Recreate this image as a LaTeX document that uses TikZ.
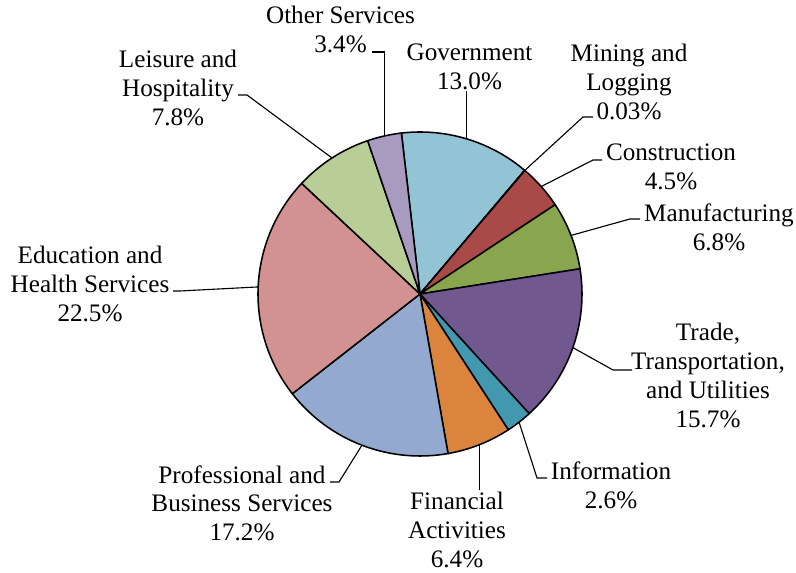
\documentclass[tikz,border=0pt]{standalone}
\usepackage{fontspec}
\setmainfont{Liberation Serif}
\usetikzlibrary{calc}

\definecolor{govblue}{RGB}{147,196,213}
\definecolor{minblue}{RGB}{79,129,189}
\definecolor{conred}{RGB}{170,74,72}
\definecolor{mangreen}{RGB}{137,166,78}
\definecolor{trapurple}{RGB}{113,88,143}
\definecolor{infteal}{RGB}{65,152,175}
\definecolor{finorange}{RGB}{219,132,61}
\definecolor{problue}{RGB}{147,169,207}
\definecolor{edupink}{RGB}{209,146,145}
\definecolor{leigreen}{RGB}{185,205,150}
\definecolor{othlilac}{RGB}{169,155,192}

\def\pieR{40.5mm}

\tikzset{
	slice/.style={draw=black, line width=1.1pt, line join=round},
	leader/.style={draw=black, line width=0.8pt},
	lbl/.style={align=center, inner sep=1pt, font=\fontsize{17.9}{20.6}\selectfont}
}

\begin{document}
\begin{tikzpicture}[x=0.25mm, y=0.25mm]
	%%%%% START %%%%%
	\useasboundingbox (0, 0) rectangle (796, 573);
	
	\coordinate (c) at (420, 279);
	
	% slices, clockwise from the top
	\filldraw[slice, fill=govblue] (c) -- ($(c)+(96.59:\pieR)$) arc (96.59:49.77:\pieR) -- cycle;
	\filldraw[slice, fill=minblue] (c) -- ($(c)+(49.77:\pieR)$) arc (49.77:49.66:\pieR) -- cycle;
	\filldraw[slice, fill=conred] (c) -- ($(c)+(49.66:\pieR)$) arc (49.66:33.45:\pieR) -- cycle;
	\filldraw[slice, fill=mangreen] (c) -- ($(c)+(33.45:\pieR)$) arc (33.45:8.95:\pieR) -- cycle;
	\filldraw[slice, fill=trapurple] (c) -- ($(c)+(8.95:\pieR)$) arc (8.95:-47.61:\pieR) -- cycle;
	\filldraw[slice, fill=infteal] (c) -- ($(c)+(-47.61:\pieR)$) arc (-47.61:-56.98:\pieR) -- cycle;
	\filldraw[slice, fill=finorange] (c) -- ($(c)+(-56.98:\pieR)$) arc (-56.98:-80.04:\pieR) -- cycle;
	\filldraw[slice, fill=problue] (c) -- ($(c)+(-80.04:\pieR)$) arc (-80.04:-142.00:\pieR) -- cycle;
	\filldraw[slice, fill=edupink] (c) -- ($(c)+(-142.00:\pieR)$) arc (-142.00:-223.06:\pieR) -- cycle;
	\filldraw[slice, fill=leigreen] (c) -- ($(c)+(-223.06:\pieR)$) arc (-223.06:-251.16:\pieR) -- cycle;
	\filldraw[slice, fill=othlilac] (c) -- ($(c)+(-251.16:\pieR)$) arc (-251.16:-263.41:\pieR) -- cycle;
	
	% labels
	\node[lbl] (oth) at (340.5, 543.5) {Other Services\\3.4\%};
	\node[lbl] (lei) at (178, 485.5) {Leisure and\\Hospitality\\7.8\%};
	\node[lbl] (gov) at (469.5, 506.5) {Government\\13.0\%};
	\node[lbl] (min) at (629, 491.5) {Mining and\\Logging\\0.03\%};
	\node[lbl] (con) at (671, 406) {Construction\\4.5\%};
	\node[lbl] (man) at (719, 345.5) {Manufacturing\\6.8\%};
	\node[lbl] (tra) at (708, 197.25) {Trade,\\Transportation,\\and Utilities\\15.7\%};
	\node[lbl] (inf) at (611, 88) {Information\\2.6\%};
	\node[lbl] (fin) at (457, 43) {Financial\\Activities\\6.4\%};
	\node[lbl] (pro) at (242, 69.7) {Professional and\\Business Services\\17.2\%};
	\node[lbl] (edu) at (90, 289) {Education and\\Health Services\\22.5\%};
	
	% points on the rim
	\coordinate (oth-pt) at ($(c)+(102.7:\pieR)$);
	\coordinate (lei-pt) at ($(c)+(122.9:\pieR)$);
	\coordinate (gov-pt) at ($(c)+(73.18:\pieR)$);
	\coordinate (min-pt) at ($(c)+(49.7:\pieR)$);
	\coordinate (con-pt) at ($(c)+(41.55:\pieR)$);
	\coordinate (man-pt) at ($(c)+(21.2:\pieR)$);
	\coordinate (tra-pt) at ($(c)+(-19.33:\pieR)$);
	\coordinate (inf-pt) at ($(c)+(-52.3:\pieR)$);
	\coordinate (fin-pt) at ($(c)+(-68.5:\pieR)$);
	\coordinate (pro-pt) at ($(c)+(-111.0:\pieR)$);
	\coordinate (edu-pt) at ($(c)+(177.5:\pieR)$);
	
	% leader lines
	\coordinate (oth-a) at (372, 521);
	\coordinate (lei-a) at (238, 478);
	\coordinate (lei-b) at (247, 478);
	\coordinate (min-a) at (593, 456);
	\coordinate (min-b) at (583, 456);
	\coordinate (con-a) at (602, 413);
	\coordinate (con-b) at (593, 413);
	\coordinate (man-a) at (640, 354);
	\coordinate (man-b) at (630, 354);
	\coordinate (tra-a) at (632, 203);
	\coordinate (tra-b) at (613, 203);
	\coordinate (inf-a) at (547, 95);
	\coordinate (inf-b) at (537, 95);
	\coordinate (pro-a) at (330, 91);
	\coordinate (pro-b) at (339, 91);
	\coordinate (edu-a) at (173, 282);
	\coordinate (edu-b) at (180, 282);
	
	\draw[leader] (oth-a) -- (oth-pt |- oth-a) -- (oth-pt);
	\draw[leader] (lei-a) -- (lei-b) -- (lei-pt);
	\draw[leader] (gov-pt |- gov.south) -- (gov-pt);
	\draw[leader] (min-a) -- (min-b) -- (min-pt);
	\draw[leader] (con-a) -- (con-b) -- (con-pt);
	\draw[leader] (man-a) -- (man-b) -- (man-pt);
	\draw[leader] (tra-a) -- (tra-b) -- (tra-pt);
	\draw[leader] (inf-a) -- (inf-b) -- (inf-pt);
	\draw[leader] (fin-pt |- fin.north) -- (fin-pt);
	\draw[leader] (pro-a) -- (pro-b) -- (pro-pt);
	\draw[leader] (edu-a) -- (edu-b) -- (edu-pt);
	%%%%% END %%%%%
\end{tikzpicture}
\end{document}
